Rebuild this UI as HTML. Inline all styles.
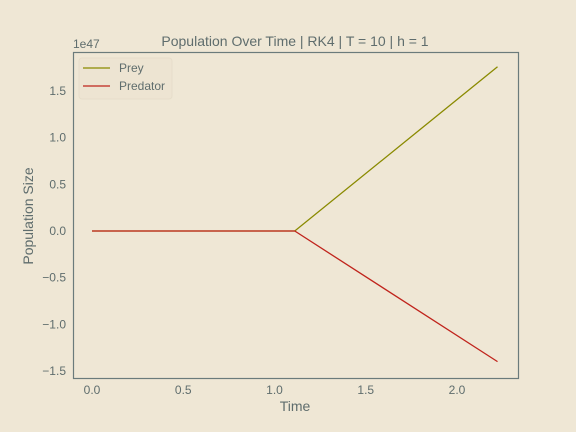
<!DOCTYPE html>
<html><head><meta charset="utf-8"><style>
html,body{margin:0;padding:0;background:#efe7d5;}
svg{display:block;font-family:"Liberation Sans",sans-serif;}
</style></head><body>
<svg id="chart" width="576" height="432">
<rect x="0" y="0" width="576" height="432" fill="#efe7d5"/>
<text x="295" y="46" font-size="14" fill="#5f6d6d" text-anchor="middle">Population Over Time | RK4 | T = 10 | h = 1</text>
<text x="73" y="48" font-size="12" fill="#5f6d6d">1e47</text>
<g id="xt"></g>
<g id="yt"></g>
<g id="lines"></g>
<rect x="73.5" y="52.5" width="445" height="326" fill="none" stroke="#6b7b7b" stroke-width="1.2"/>
<text x="295" y="411" font-size="14" fill="#5f6d6d" text-anchor="middle">Time</text>
<text transform="translate(33,216) rotate(-90)" font-size="14" fill="#5f6d6d" text-anchor="middle">Population Size</text>
<g>
<rect x="79" y="58" width="93" height="41" rx="3" fill="#ede4d2" stroke="#e6ddca"/>
<line x1="83" y1="68" x2="110" y2="68" stroke="#8a8a00" stroke-width="1.3"/>
<text x="119" y="72" font-size="12" fill="#5f6d6d">Prey</text>
<line x1="83" y1="86" x2="110" y2="86" stroke="#c0241c" stroke-width="1.3"/>
<text x="119" y="90" font-size="12" fill="#5f6d6d">Predator</text>
</g>
</svg>
<script>
const times=[0,1.111,2.222];
const prey=[0,0,1.76];
const predator=[0,0,-1.40];
const xTicks=[0,0.5,1.0,1.5,2.0];
const yTicks=[-1.5,-1.0,-0.5,0.0,0.5,1.0,1.5];
const xs=v=>92+v*182.5;
const ys=v=>231-v*93.3;
const NS="http://www.w3.org/2000/svg";
const xt=document.getElementById('xt'),yt=document.getElementById('yt'),lg=document.getElementById('lines');
xTicks.forEach(v=>{const t=document.createElementNS(NS,'text');


t.setAttribute('x',xs(v));t.setAttribute('y',394);t.setAttribute('font-size','12');t.setAttribute('fill','#5f6d6d');t.setAttribute('text-anchor','middle');t.textContent=v.toFixed(1);xt.appendChild(t);});
yTicks.forEach(v=>{const t=document.createElementNS(NS,'text');


t.setAttribute('x',66);t.setAttribute('y',ys(v)+4);t.setAttribute('font-size','12');t.setAttribute('fill','#5f6d6d');t.setAttribute('text-anchor','end');t.textContent=(v<0?'\u2212':'')+Math.abs(v).toFixed(1);yt.appendChild(t);});
function line(arr,color,name){const p=document.createElementNS(NS,'polyline');


p.setAttribute('points',arr.map((v,i)=>xs(times[i])+','+ys(v)).join(' '));p.setAttribute('fill','none');p.setAttribute('stroke',color);p.setAttribute('stroke-width','1.3');lg.appendChild(p);}
line(prey,'#8a8a00','prey-line');
line(predator,'#c0241c','predator-line');
</script>
</body></html>
